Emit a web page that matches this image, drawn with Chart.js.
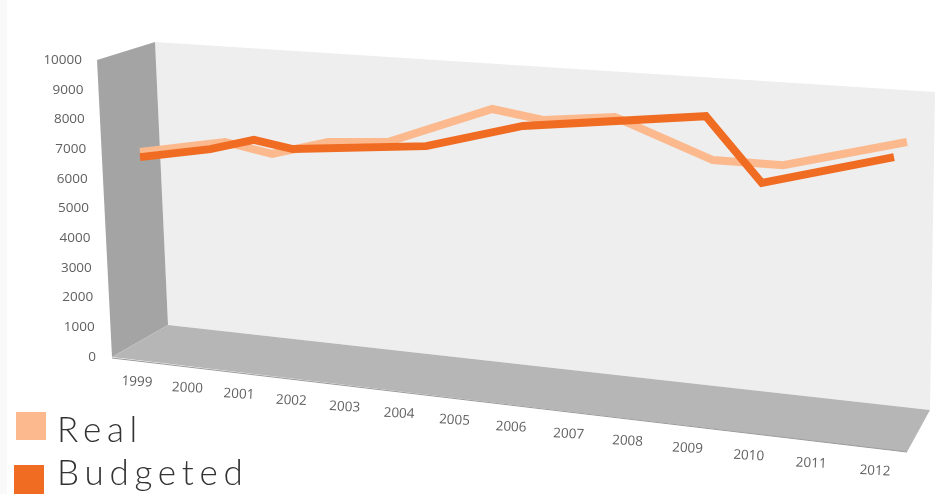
<!DOCTYPE html>
<html>
<head>
<meta charset="utf-8">
<title>Real vs Budgeted</title>
<script src="https://cdn.jsdelivr.net/npm/chart.js@4"></script>
<style>
  html, body { margin: 0; padding: 0; background: #fff; }
  canvas { display: block; }
</style>
</head>
<body>
<canvas id="grafico" width="935" height="494"></canvas>
<script>
  // vertices as they sit in the picture: they do not line up with the year ticks
  const realYears = [1999, 2000.44, 2001.24, 2002.19, 2003.2, 2004.97, 2005.83, 2007.05, 2008.71, 2009.9, 2012];
  const realValues = [6900, 7240, 6840, 7240, 7240, 8350, 7980, 8080, 6630, 6460, 7240];
  const budgetedYears = [1999, 2000.19, 2000.93, 2001.59, 2003.85, 2005.49, 2008.59, 2009.54, 2011.78];
  const budgetedValues = [6730, 7000, 7310, 7000, 7100, 7780, 8110, 5860, 6730];

  const legendNames = ['Real', 'Budgeted'];
  const corReal = '#fbb98d';
  const corBudgeted = '#f06c23';

  function pares(xs, ys) {
    return xs.map((x, i) => ({ x, y: ys[i] }));
  }

  function poligono(ctx, pts, fill) {
    ctx.beginPath();
    pts.forEach((p, i) => i ? ctx.lineTo(p[0], p[1]) : ctx.moveTo(p[0], p[1]));
    ctx.closePath();
    ctx.fillStyle = fill;
    ctx.fill();
  }

  /* ── Fake 3D box behind the lines ── */
  const caixa3d = {
    id: 'caixa3d',
    beforeDatasetsDraw(chart) {
      const { ctx } = chart;
      ctx.save();
      ctx.fillStyle = '#f9f9f9';
      ctx.fillRect(0, 0, 7, 494);
      ctx.filter = 'blur(0.6px)';
      poligono(ctx, [[155, 42], [935, 92], [930, 410], [168, 325]], '#eeeeee');
      poligono(ctx, [[97, 60], [155, 42], [168, 325], [112, 357]], '#a4a4a4');
      poligono(ctx, [[112, 357], [168, 325], [930, 410], [907, 452]], '#b6b6b6');
      ctx.strokeStyle = '#9a9a9a';
      ctx.lineWidth = 1;
      ctx.beginPath();
      ctx.moveTo(112, 358);
      ctx.lineTo(907, 452);
      ctx.stroke();
      ctx.restore();
    }
  };

  /* ── Axis labels follow the slanted box, so they are placed here ── */
  const eixos3d = {
    id: 'eixos3d',
    afterDraw(chart) {
      const { ctx, scales: { x, y } } = chart;
      ctx.save();
      ctx.filter = 'blur(0.4px)';
      ctx.font = '13.5px "Open Sans"';
      ctx.fillStyle = '#606060';
      ctx.textBaseline = 'middle';

      ctx.textAlign = 'right';
      y.ticks.forEach(t => {
        ctx.fillText(String(t.value), 96 - t.value / 10000 * 14, y.getPixelForValue(t.value));
      });

      // front edge of the floor, nearer years spread wider
      ctx.textAlign = 'center';
      const a = 0.881;
      x.ticks.forEach(t => {
        const u = (t.value - x.min) / (x.max - x.min);
        const f = u * a / (1 - u + u * a);
        ctx.save();
        ctx.translate(137 + f * 738, 382 + f * 89);
        ctx.rotate(0.05);
        ctx.fillText(String(t.value), 0, 0);
        ctx.restore();
      });
      ctx.restore();

      // legend
      ctx.save();
      ctx.fillStyle = corReal;
      ctx.fillRect(16, 412, 30, 28);
      ctx.fillStyle = corBudgeted;
      ctx.fillRect(14, 465, 30, 29);
      ctx.font = '300 35px Lato';
      ctx.letterSpacing = '5.75px';
      ctx.fillStyle = '#333333';
      ctx.textAlign = 'left';
      ctx.textBaseline = 'alphabetic';
      ctx.fillText(legendNames[0], 57, 442);
      ctx.fillText(legendNames[1], 57, 485);
      ctx.restore();
    }
  };

  // no room reserved for the hidden axes, the plot area is set by the padding alone
  function semEspaco(scale) {
    scale.width = scale.isHorizontal() ? scale.width : 0;
    scale.height = scale.isHorizontal() ? 0 : scale.height;
  }

  new Chart(document.getElementById('grafico'), {
    type: 'line',
    data: {
      datasets: [
        {
          label: legendNames[0],
          data: pares(realYears, realValues),
          borderColor: corReal,
          borderWidth: 8,
          pointRadius: 0,
          tension: 0,
          clip: false,
          order: 2
        },
        {
          label: legendNames[1],
          data: pares(budgetedYears, budgetedValues),
          borderColor: corBudgeted,
          borderWidth: 8,
          pointRadius: 0,
          tension: 0,
          clip: false,
          order: 1
        }
      ]
    },
    options: {
      responsive: false,
      animation: false,
      layout: { padding: { left: 140, right: 28, top: 60, bottom: 137 } },
      plugins: {
        legend: { display: false },
        tooltip: { enabled: false }
      },
      scales: {
        x: {
          type: 'linear',
          min: 1999,
          max: 2012,
          afterFit: semEspaco,
          ticks: { display: false, stepSize: 1 },
          grid: { display: false },
          border: { display: false }
        },
        y: {
          min: 0,
          max: 10000,
          afterFit: semEspaco,
          ticks: { display: false, stepSize: 1000 },
          grid: { display: false },
          border: { display: false }
        }
      }
    },
    plugins: [caixa3d, eixos3d]
  });
</script>
</body>
</html>
